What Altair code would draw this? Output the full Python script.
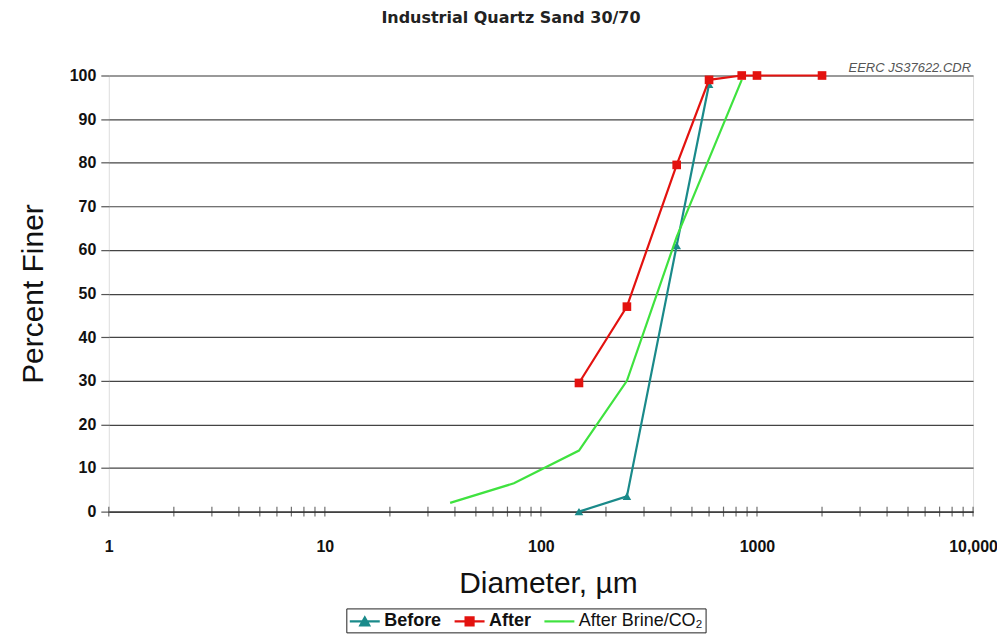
import altair as alt
import pandas as pd

# ---- data ----
series_names = ["Before", "After", "After Brine/CO₂"]
series_colors = ["#1a8a8a", "#e3120f", "#3fe23f"]

before_diam = [150, 250, 425, 600]
before_pct = [0, 3.5, 61, 98]

after_diam = [150, 250, 425, 600, 850, 1000, 2000]
after_pct = [29.5, 47, 79.5, 99, 100, 100, 100]

brine_diam = [38, 75, 150, 250, 425, 850]
brine_pct = [2, 6.5, 14, 30, 63, 99]

x_minor_ticks = [m * 10 ** e for e in range(4) for m in range(1, 10)] + [10000]
x_label_values = [1, 10, 100, 1000, 10000]
y_tick_values = list(range(0, 101, 10))
note_text = "EERC JS37622.CDR"
title_text = "Industrial Quartz Sand 30/70"

legend_paths = [
    "M-1,0H2.16M0.11,0.42L0.58,-0.42L1.05,0.42Z",
    "M-1,0H2.16M0.16,-0.42H1.0V0.42H0.16Z",
    "M-1,0H2.16",
]

rows = []
for name, ds, ps in [("Before", before_diam, before_pct),
                     ("After", after_diam, after_pct),
                     ("After Brine/CO₂", brine_diam, brine_pct)]:
    for d, p in zip(ds, ps):
        rows.append({"series": name, "diameter": d, "pct": p})
df = pd.DataFrame(rows)

W, H = 866, 437
FONT = "Liberation Sans"

x_scale = alt.Scale(type="log", domain=[1, 10000], nice=False)
y_scale = alt.Scale(domain=[0, 100], nice=False, zero=True)

x_axis = alt.Axis(
    values=x_label_values,
    labelExpr="datum.value == 10000 ? '10,000' : '' + datum.value",
    ticks=False, tickSize=0, grid=False,
    domain=True, domainColor="#333", domainWidth=1.3,
    labelFont=FONT, labelFontSize=16, labelFontWeight="bold", labelColor="#111",
    labelPadding=27, labelFlush=False,
    titleFont=FONT, titleFontSize=30, titleFontWeight="normal", titleColor="#111",
    titleX=440, titleY=81, titleBaseline="alphabetic", titleAlign="center",
)
y_axis = alt.Axis(
    values=y_tick_values,
    grid=True, gridColor="#444", gridWidth=1.2,
    ticks=True, tickSize=8, tickColor="#555", tickWidth=1.2,
    domain=False,
    labelFont=FONT, labelFontSize=16, labelFontWeight="bold", labelColor="#111",
    labelPadding=5,
    titleFont=FONT, titleFontSize=30, titleFontWeight="normal", titleColor="#111",
    titleX=-66, titleY=H / 2, titleAngle=-90, titleAlign="center",
    titleBaseline="alphabetic",
)

X = alt.X("diameter:Q", scale=x_scale, axis=x_axis, title="Diameter, µm")
Y = alt.Y("pct:Q", scale=y_scale, axis=y_axis, title="Percent Finer")


def series_layer(name, color, shape=None):
    base = alt.Chart(df).transform_filter(alt.datum.series == name)
    line = base.mark_line(color=color, strokeWidth=2.2).encode(x=X, y=Y)
    if shape is None:
        return [line]
    pts = base.mark_point(shape=shape, filled=True, color=color, size=75, opacity=1).encode(x=X, y=Y)
    return [line, pts]


layers = []
layers += series_layer("Before", series_colors[0], "triangle-up")
layers += series_layer("After Brine/CO₂", series_colors[2])
layers += series_layer("After", series_colors[1], "square")

# minor tick marks crossing the x axis
ticks = alt.Chart(pd.DataFrame({"diameter": x_minor_ticks})).mark_tick(
    color="#333", thickness=1.2, size=10
).encode(x=X, y=alt.value(H))

note = alt.Chart(pd.DataFrame({"note": [note_text]})).mark_text(
    align="right", baseline="alphabetic", fontStyle="italic", fontSize=13,
    font=FONT, color="#555"
).encode(x=alt.value(W - 2), y=alt.value(-4), text="note:N")

legend_props = dict(
    title=None, orient="none", legendX=238, legendY=534, direction="horizontal",
    strokeColor="#222", fillColor="white", padding=2,
    labelFont=FONT, labelFontSize=18, labelColor="#111",
    labelFontWeight={"expr": "indexof(datum.label, 'Brine') >= 0 ? 'normal' : 'bold'"},
    symbolSize=361, symbolStrokeWidth=2.2, labelOffset=14, columnPadding=8,
)
legend_layer = alt.Chart(df).transform_filter("false").mark_point(
    filled=True, size=361, opacity=1, strokeWidth=2.2
).encode(
    x=X, y=Y,
    color=alt.Color("series:N", scale=alt.Scale(domain=series_names, range=series_colors),
                    legend=alt.Legend(**legend_props)),
    stroke=alt.Stroke("series:N", scale=alt.Scale(domain=series_names, range=series_colors),
                      legend=alt.Legend(**legend_props)),
    shape=alt.Shape("series:N", scale=alt.Scale(domain=series_names, range=legend_paths),
                    legend=alt.Legend(**legend_props)),
)

chart = alt.layer(legend_layer, ticks, *layers, note).properties(
    width=W, height=H,
    title=alt.TitleParams(title_text, font="DejaVu Sans", fontSize=16, fontWeight="bold",
                          color="#222", anchor="middle", frame="group", dx=-30, offset=36),
    padding={"left": 101, "top": 67, "right": 24, "bottom": 126},
    autosize=alt.AutoSizeParams(type="none"),
).configure_view(stroke="#888", strokeWidth=1.2).configure(background="white")

chart.save("out.html", embed_options={"renderer": "svg", "actions": False})
